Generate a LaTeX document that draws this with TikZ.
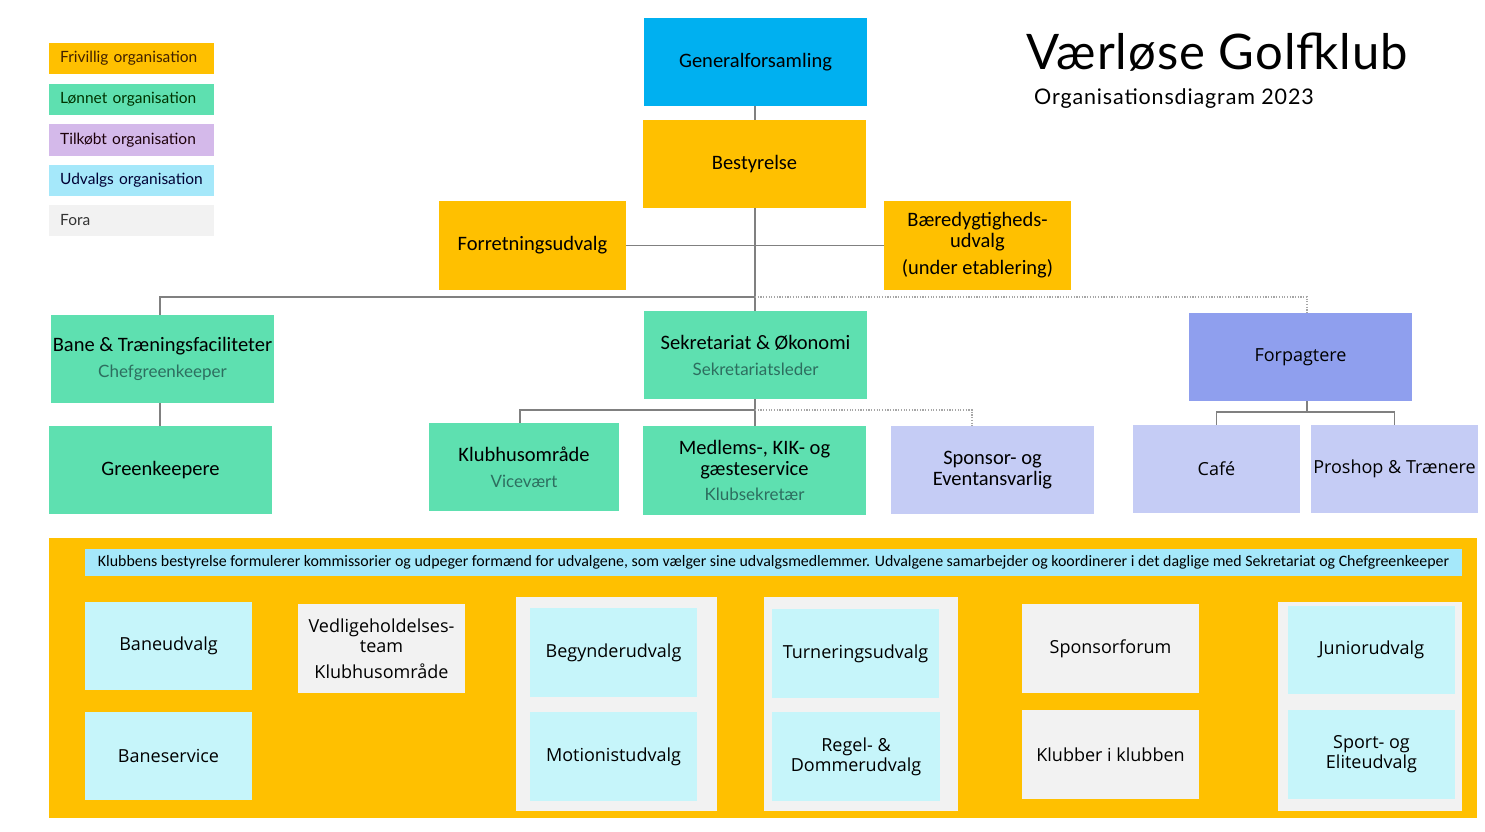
\documentclass[tikz,border=0pt]{standalone}
\usepackage{fontspec}
\setmainfont{Carlito}
\newfontfamily\osans{Open Sans}
\newfontfamily\lato{Lato}
\newfontfamily\latosp[LetterSpace=4]{Lato}
\newfontfamily\latot[LetterSpace=2]{Lato}
\definecolor{org}{RGB}{255,192,0}
\definecolor{grn}{RGB}{94,224,176}
\definecolor{gblue}{RGB}{0,176,240}
\definecolor{forp}{RGB}{143,159,238}
\definecolor{lav}{RGB}{197,204,245}
\definecolor{purp}{RGB}{212,185,234}
\definecolor{udv}{RGB}{165,232,250}
\definecolor{fora}{RGB}{242,242,242}
\definecolor{cyanbox}{RGB}{198,245,250}
\definecolor{linegray}{RGB}{128,128,128}
\definecolor{subtxt}{RGB}{45,110,95}
\newcommand{\subt}[1]{{\lato\fontsize{17}{19}\selectfont\color{subtxt}#1}}
\begin{document}
\begin{tikzpicture}[x=1pt,y=-1pt,
  box/.style={rectangle, inner sep=0pt, align=center, text=black, font=\fontsize{20.5}{21}\selectfont},
  obox/.style={box, font=\osans\fontsize{18}{20}\selectfont},
  leg/.style={rectangle, inner sep=0pt, minimum width=165pt, minimum height=31pt, anchor=west, text width=165pt, align=left, font=\lato\fontsize{15.5}{17}\selectfont},
  conn/.style={draw=linegray, line width=1.1pt},
  dconn/.style={draw=linegray!70, line width=1.1pt, dash pattern=on 1.2pt off 1.5pt}
]
\useasboundingbox (0,0) rectangle (1485,832);
\fill[white] (0,0) rectangle (1485,832);

% legend
\node[leg, fill=org, text=black!75!orange] (l1) at (49,58.5) {\hspace*{11pt}Frivillig organisation};
\node[leg, fill=grn, text=black!80!green] (l2) at (49,99.5) {\hspace*{11pt}Lønnet organisation};
\node[leg, fill=purp, text=black!85!purple] (l3) at (49,140) {\hspace*{11pt}Tilkøbt organisation};
\node[leg, fill=udv, text=black!80!blue] (l4) at (49,180) {\hspace*{11pt}Udvalgs organisation};
\node[leg, fill=fora, text=black!80] (l5) at (49,220) {\hspace*{11pt}Fora};

% title
\node[anchor=base west, inner sep=0pt, font=\latot\fontsize{49}{52}\selectfont] (title) at (1026,70) {Værløse Golfklub};
\node[anchor=base west, inner sep=0pt, font=\latosp\fontsize{21.5}{24}\selectfont] (subtitle) at (1034,105) {Organisationsdiagram 2023};

% top
\node[box, fill=gblue, minimum width=223pt, minimum height=88pt] (gen) at (755.5,62) {Generalforsamling};
\node[box, fill=org, minimum width=223pt, minimum height=88pt] (best) at (754.5,164) {Bestyrelse};
\node[box, fill=org, minimum width=187pt, minimum height=89pt] (forr) at (532.5,245.5) {Forretningsudvalg};
\node[box, fill=org, minimum width=187pt, minimum height=89pt] (baer) at (977.5,245.5) {Bæredygtigheds-\\udvalg\\[6pt](under etablering)};

% second level
\node[box, fill=grn, minimum width=223pt, minimum height=88pt] (bane) at (162.5,359) {Bane \& Træningsfaciliteter\\[5pt]\subt{Chefgreenkeeper}};
\node[box, fill=grn, minimum width=223pt, minimum height=88pt] (sek) at (755.5,355) {Sekretariat \& Økonomi\\[5pt]\subt{Sekretariatsleder}};
\node[obox, fill=forp, minimum width=223pt, minimum height=88pt] (forpa) at (1300.5,357) {Forpagtere};

% third level
\node[box, fill=grn, minimum width=223pt, minimum height=88pt] (gk) at (160.5,470) {Greenkeepere};
\node[box, fill=grn, minimum width=190pt, minimum height=88pt] (klub) at (524,467) {Klubhusområde\\[5pt]\subt{Vicevært}};
\node[box, fill=grn, minimum width=223pt, minimum height=89pt] (medl) at (754.5,470.5) {Medlems-, KIK- og\\gæsteservice\\[4pt]\subt{Klubsekretær}};
\node[box, fill=lav, minimum width=203pt, minimum height=88pt] (spon) at (992.5,470) {Sponsor- og\\Eventansvarlig};
\node[obox, fill=lav, minimum width=167pt, minimum height=88pt] (cafe) at (1216.5,469) {Café};
\node[obox, fill=lav, minimum width=167pt, minimum height=88pt] (pro) at (1394.5,469) {Proshop \& Trænere};

% connectors
\coordinate (j1) at (755,297);
\coordinate (j2) at (755,410);
\coordinate (j3) at (1307,412);
\draw[conn] (j1 |- gen.south) -- (j1 |- best.north);
\draw[conn] (j1 |- best.south) -- (j1 |- sek.north);
\draw[conn] (forr.east) -- (baer.west);
\draw[conn] (j1) -| ([xshift=-2.5pt]bane.north);
\draw[dconn] (j1) -| ([xshift=6.5pt]forpa.north);
\draw[conn] ([xshift=-2.5pt]bane.south) -- ([xshift=-2.5pt]bane.south |- gk.north);
\draw[conn] (j2 |- sek.south) -- (j2 |- medl.north);
\draw[conn] (j2) -| ([xshift=-4pt]klub.north);
\draw[dconn] (j2) -| ([xshift=-20.5pt]spon.north);
\draw[conn] (j3 |- forpa.south) -- (j3);
\draw[conn] (j3) -| (cafe.north);
\draw[conn] (j3) -| (pro.north);

% bottom panel
\fill[org] (49,538) rectangle (1477,818);
\node[rectangle, inner sep=0pt, fill=udv, minimum width=1377pt, minimum height=27pt, font=\fontsize{15.9}{17}\selectfont] (banner) at (773.5,562.5) {Klubbens bestyrelse formulerer kommissorier og udpeger formænd for udvalgene, som vælger sine udvalgsmedlemmer. Udvalgene samarbejder og koordinerer i det daglige med Sekretariat og Chefgreenkeeper};

\fill[fora] (516,597) rectangle (717,811);
\fill[fora] (764,597) rectangle (958,811);
\fill[fora] (1278,602) rectangle (1462,811);

\node[obox, fill=cyanbox, minimum width=167pt, minimum height=88pt] (baneu) at (168.5,646) {Baneudvalg};
\node[obox, fill=cyanbox, minimum width=167pt, minimum height=88pt] (banes) at (168.5,756) {Baneservice};
\node[obox, fill=fora, minimum width=167pt, minimum height=89pt] (vedl) at (381.5,648.5) {Vedligeholdelses-\\team\\[6pt]Klubhusområde};
\node[obox, fill=cyanbox, minimum width=167pt, minimum height=89pt] (begy) at (613.5,652.5) {Begynderudvalg};
\node[obox, fill=cyanbox, minimum width=167pt, minimum height=89pt] (moti) at (613.5,756.5) {Motionistudvalg};
\node[obox, fill=cyanbox, minimum width=167pt, minimum height=89pt] (turn) at (855.5,653.5) {Turneringsudvalg};
\node[obox, fill=cyanbox, minimum width=168pt, minimum height=89pt] (regel) at (856,756.5) {Regel- \&\\Dommerudvalg};
\node[obox, fill=fora, minimum width=177pt, minimum height=89pt] (sforum) at (1110.5,648.5) {Sponsorforum};
\node[obox, fill=fora, minimum width=177pt, minimum height=89pt] (kik) at (1110.5,754.5) {Klubber i klubben};
\node[obox, fill=cyanbox, minimum width=167pt, minimum height=88pt] (junior) at (1371.5,650) {Juniorudvalg};
\node[obox, fill=cyanbox, minimum width=167pt, minimum height=89pt] (sport) at (1371.5,754.5) {Sport- og\\Eliteudvalg};
\end{tikzpicture}
\end{document}
